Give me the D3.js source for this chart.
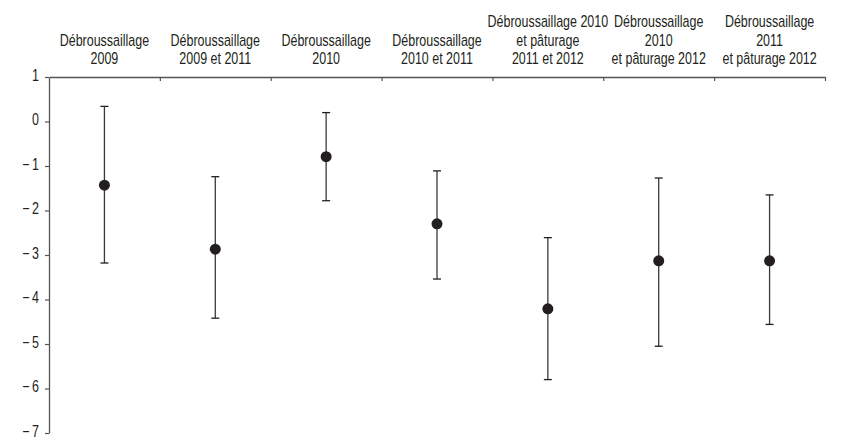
<!DOCTYPE html>
<html><head><meta charset="utf-8">
<script src="https://cdn.jsdelivr.net/npm/d3@7"></script>
<style>
body{margin:0;background:#fff;}
svg{display:block;}
text{font-family:"Liberation Sans",Arial,sans-serif;fill:#231f20;}
</style></head>
<body>
<svg id="chart" width="846" height="439"></svg>
<script>
const categories = [
  ["Débroussaillage","2009"],
  ["Débroussaillage","2009 et 2011"],
  ["Débroussaillage","2010"],
  ["Débroussaillage","2010 et 2011"],
  ["Débroussaillage 2010","et pâturage","2011 et 2012"],
  ["Débroussaillage","2010","et pâturage 2012"],
  ["Débroussaillage","2011","et pâturage 2012"]
];
const means = [-1.43, -2.87, -0.79, -2.30, -4.21, -3.13, -3.13];
const upper = [0.34, -1.24, 0.20, -1.11, -2.61, -1.27, -1.65];
const lower = [-3.18, -4.42, -1.78, -3.54, -5.80, -5.05, -4.56];
const yTicks = [1, 0, -1, -2, -3, -4, -5, -6, -7];

const svg = d3.select("#chart");
const mLeft = 49, mRight = 825, mTop = 77, mBottom = 433;
const sx = 0.78;
const ids = d3.range(categories.length);
const x = d3.scaleBand().domain(ids).range([mLeft, mRight]).padding(0);
const xb = d3.scaleLinear().domain([0, categories.length]).range([mLeft, mRight]);
const y = d3.scaleLinear().domain([-7, 1]).range([mBottom, mTop]);

// Top axis with boundary ticks
const gx = svg.append("g").attr("transform", `translate(0,${mTop})`)
  .call(d3.axisTop(xb).tickValues(d3.range(1, categories.length + 1)).tickSize(-4).tickSizeOuter(0).tickFormat(""));
gx.select(".domain").attr("stroke", "#555").attr("stroke-width", 1.3);
gx.selectAll(".tick line").attr("stroke", "#555").attr("stroke-width", 1.2);

// Y axis
const gy = svg.append("g").attr("transform", `translate(${mLeft},0)`)
  .call(d3.axisLeft(y).tickValues(yTicks).tickSize(4).tickSizeOuter(0).tickFormat(""));
gy.select(".domain").attr("stroke", "#555").attr("stroke-width", 1.3);
gy.selectAll(".tick line").attr("stroke", "#555").attr("stroke-width", 1.2);

// Y tick labels (condensed)
svg.append("g").selectAll("text").data(yTicks).join("text")
  .attr("transform", d => `translate(${mLeft - 10},${y(d) + 3.5}) scale(${sx},1)`)
  .attr("text-anchor", "end").style("font-size", "16px")
  .text(d => d < 0 ? "\u2212\u2009" + Math.abs(d) : String(d));

// Category labels
const lh = 18.5, lastBase = 64;
ids.forEach(i => {
  const lines = categories[i];
  const cx = x(i) + x.bandwidth() / 2;
  lines.forEach((l, k) => {
    svg.append("text").attr("text-anchor", "middle").style("font-size", "16px")
      .attr("transform", `translate(${cx},${lastBase - (lines.length - 1 - k) * lh}) scale(${sx},1)`)
      .text(l);
  });
});

// Error bars
const cap = 4;
const g = svg.append("g");
ids.forEach(i => {
  const cx = x(i) + x.bandwidth() / 2;
  g.append("line").attr("x1", cx).attr("x2", cx).attr("y1", y(upper[i])).attr("y2", y(lower[i]))
    .attr("stroke", "#3a3a3a").attr("stroke-width", 1.3);
  [upper[i], lower[i]].forEach(v => {
    g.append("line").attr("x1", cx - cap).attr("x2", cx + cap).attr("y1", y(v)).attr("y2", y(v))
      .attr("stroke", "#231f20").attr("stroke-width", 1.3);
  });
  g.append("circle").attr("cx", cx).attr("cy", y(means[i])).attr("r", 5.5).attr("fill", "#231f20");
});
</script>
</body></html>
